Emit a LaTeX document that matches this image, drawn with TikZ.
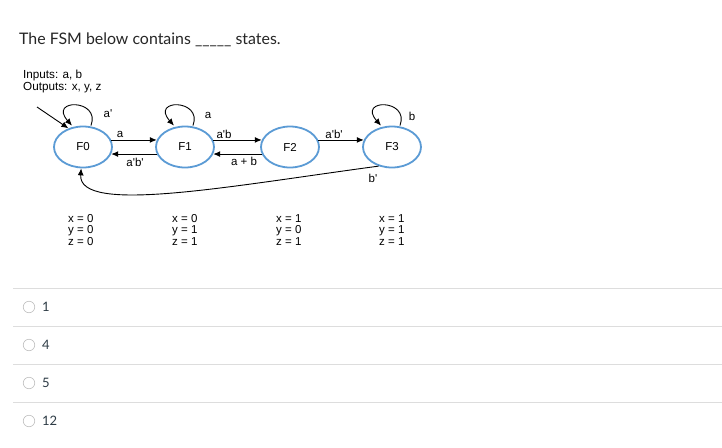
\documentclass[tikz,border=0pt]{standalone}
\usepackage{fontspec}
\setmainfont{Lato}
\newfontfamily\arial{Liberation Sans}
\usetikzlibrary{arrows.meta,shapes.geometric}
\definecolor{stblue}{RGB}{91,155,213}
\definecolor{rulegray}{RGB}{221,221,221}
\definecolor{radiogray}{RGB}{190,190,190}
\definecolor{opttext}{RGB}{45,59,69}
\newcommand{\pr}{\textquotesingle}
\begin{document}
\begin{tikzpicture}[x=1pt,y=-1pt,
  fsmstate/.style={draw=stblue,line width=1.8pt,ellipse,minimum width=58pt,minimum height=41pt,inner sep=0pt,font=\arial\fontsize{11.5}{12}\selectfont},
  lbl/.style={font=\arial\fontsize{11.5}{12}\selectfont,inner sep=0pt},
  outtxt/.style={font=\arial\fontsize{11.5}{11.6}\selectfont,align=left,anchor=north west,inner sep=0pt},
  tr/.style={-{Latex[length=7pt,width=6pt]},line width=0.9pt},
  hrule/.style={draw=rulegray,line width=0.9pt},
  radio/.style={circle,draw=radiogray,line width=0.6pt,minimum size=11.5pt,inner sep=0pt},
  opttxt/.style={font=\fontsize{13}{15}\selectfont,text=opttext,anchor=west,inner sep=0pt}]
\useasboundingbox (0,0) rectangle (722,447);
\fill[white] (0,0) rectangle (722,447);
\node[anchor=west,inner sep=0pt,font=\fontsize{15.9}{18}\selectfont,text=black!85] (title) at (19,40) {The FSM below contains \_\_\_\_\_ states.};
\node[anchor=north west,inner sep=0pt,align=left,font=\arial\fontsize{11.7}{12}\selectfont] (io) at (23,70) {Inputs: a, b\\Outputs: x, y, z};
\node[fsmstate] (F0) at (83,147) {F0};
\node[fsmstate] (F1) at (185,147) {F1};
\node[fsmstate] (F2) at (290,147) {F2};
\node[fsmstate] (F3) at (392,147) {F3};
\coordinate (init) at (37,107);
\draw[tr] (init) -- (F0.128);
% self loops
\draw[tr] ([xshift=8pt]F0.north) .. controls +(10,-27) and +(-24,-27) .. ([xshift=-11pt]F0.north);
\draw[tr] ([xshift=8pt]F1.north) .. controls +(10,-27) and +(-24,-27) .. ([xshift=-11pt]F1.north);
\draw[tr] ([xshift=8pt]F3.north) .. controls +(10,-27) and +(-24,-27) .. ([xshift=-11pt]F3.north);
\node[lbl] (l0) at (108,114) {a\pr};
\node[lbl] (l1) at (208,115) {a};
\node[lbl] (l3) at (412,116) {b};
% horizontal transitions
\draw[tr] (F0.14) -- (F1.166);
\draw[tr] (F1.194) -- (F0.-14);
\draw[tr] (F1.14) -- (F2.166);
\draw[tr] (F2.194) -- (F1.-14);
\draw[tr] (F2.14) -- (F3.166);
\node[lbl] (la) at (120,134) {a};
\node[lbl] (lab) at (135,162) {a\pr b\pr};
\node[lbl] (lab2) at (224,134) {a\pr b};
\node[lbl] (lapb) at (244,161) {a + b};
\node[lbl] (lab3) at (334,134) {a\pr b\pr};
% return arc
\draw[tr] (F3.-125) .. controls (230,186) and (78,215) .. (F0.-95);
\node[lbl] (lb) at (373,178) {b\pr};
% outputs
\node[outtxt] (o0) at (68,214) {x = 0\\y = 0\\z = 0};
\node[outtxt] (o1) at (172,214) {x = 0\\y = 1\\z = 1};
\node[outtxt] (o2) at (276,214) {x = 1\\y = 0\\z = 1};
\node[outtxt] (o3) at (379,214) {x = 1\\y = 1\\z = 1};
% answer options
\draw[hrule] (13,288) -- (722,288);
\draw[hrule] (13,326) -- (722,326);
\draw[hrule] (13,364) -- (722,364);
\draw[hrule] (13,402) -- (722,402);
\node[radio] (r1) at (29,307) {};
\node[radio] (r2) at (29,345) {};
\node[radio] (r3) at (29,383) {};
\node[radio] (r4) at (29,421) {};
\node[opttxt] (t1) at (42,307) {1};
\node[opttxt] (t2) at (42,345) {4};
\node[opttxt] (t3) at (42,383) {5};
\node[opttxt] (t4) at (42,421) {12};
\end{tikzpicture}
\end{document}
